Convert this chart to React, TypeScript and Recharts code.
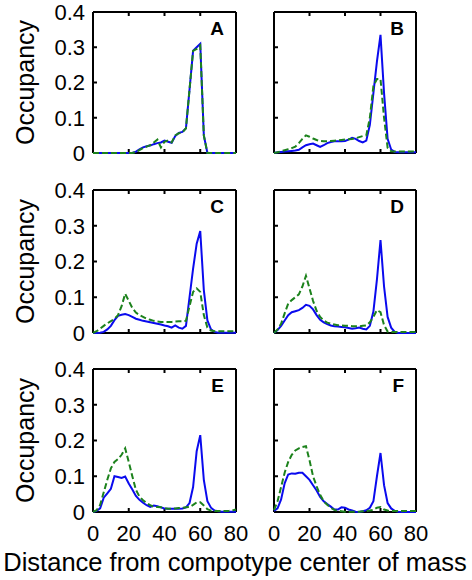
import React from "react";
import { LineChart, Line, XAxis, YAxis } from "recharts";

// distance from compotype center of mass (sampled every 2 units)
const distance = [
  0, 2, 4, 6, 8, 10, 12, 14, 16, 18, 20, 22, 24, 26, 28, 30, 32, 34, 36, 38, 40,
  42, 44, 46, 48, 50, 52, 54, 56, 58, 60, 62, 64, 66, 68, 70, 72, 74, 76, 78, 80,
];
const xTicks = [0, 20, 40, 60, 80];
const yTicks = [0, 0.1, 0.2, 0.3, 0.4];
const panelLetters = ["A", "B", "C", "D", "E", "F"];
const yLabel = "Occupancy";
const xLabel = "Distance from compotype center of mass";

// occupancy, solid blue series
const blueA = [
  0, 0, 0, 0, 0, 0, 0, 0, 0, 0, 0, 0, 0.004, 0.01, 0.016, 0.019, 0.021, 0.025, 0.028, 0.03, 0.035,
  0.032, 0.029, 0.048, 0.057, 0.06, 0.07, 0.18, 0.29, 0.3, 0.31, 0.05, 0, 0, 0, 0, 0, 0, 0, 0, 0,
];
const blueB = [
  0, 0.002, 0.003, 0.004, 0.005, 0.006, 0.007, 0.009, 0.016, 0.022, 0.025, 0.027, 0.022, 0.017, 0.022, 0.028, 0.031, 0.033, 0.033, 0.033, 0.034,
  0.038, 0.043, 0.04, 0.034, 0.03, 0.035, 0.08, 0.17, 0.26, 0.335, 0.17, 0.04, 0.01, 0.003, 0.002, 0.002, 0.002, 0.002, 0.002, 0.002,
];
const blueC = [
  0, 0, 0.001, 0.003, 0.01, 0.02, 0.036, 0.048, 0.051, 0.053, 0.05, 0.045, 0.04, 0.037, 0.034, 0.032, 0.03, 0.028, 0.026, 0.024, 0.021,
  0.019, 0.015, 0.021, 0.015, 0.012, 0.02, 0.1, 0.18, 0.25, 0.285, 0.12, 0.035, 0.01, 0.003, 0.001, 0.001, 0.001, 0.001, 0.001, 0.001,
];
const blueD = [
  0, 0.008, 0.02, 0.035, 0.05, 0.058, 0.061, 0.064, 0.07, 0.079, 0.076, 0.066, 0.05, 0.037, 0.03, 0.025, 0.021, 0.019, 0.018, 0.017, 0.016,
  0.014, 0.012, 0.013, 0.015, 0.012, 0.01, 0.02, 0.06, 0.15, 0.26, 0.13, 0.045, 0.015, 0.003, 0, 0, 0, 0, 0, 0,
];
const blueE = [
  0, 0.003, 0.01, 0.04, 0.052, 0.065, 0.1, 0.098, 0.095, 0.099, 0.08, 0.063, 0.045, 0.034, 0.026, 0.019, 0.014, 0.018, 0.016, 0.013, 0.01,
  0.009, 0.009, 0.009, 0.009, 0.01, 0.013, 0.025, 0.07, 0.17, 0.215, 0.09, 0.03, 0.012, 0.004, 0.002, 0.001, 0.001, 0.001, 0.001, 0.001,
];
const blueF = [
  0.003, 0.01, 0.035, 0.08, 0.105, 0.108, 0.107, 0.11, 0.11, 0.1, 0.09, 0.075, 0.06, 0.042, 0.03, 0.022, 0.015, 0.007, 0.007, 0.013, 0.012,
  0.007, 0.004, 0.001, 0, 0.002, 0.005, 0.012, 0.03, 0.1, 0.165, 0.075, 0.025, 0.01, 0.003, 0.001, 0, 0, 0, 0, 0,
];

// occupancy, dashed green series
const greenA = [
  0, 0, 0, 0, 0, 0, 0, 0, 0, 0, 0, 0, 0.003, 0.008, 0.014, 0.018, 0.022, 0.03, 0.038, 0.016, 0.032,
  0.036, 0.03, 0.05, 0.056, 0.058, 0.07, 0.18, 0.29, 0.295, 0.305, 0.05, 0, 0, 0, 0, 0, 0, 0, 0, 0,
];
const greenB = [
  0, 0.002, 0.005, 0.008, 0.011, 0.014, 0.018, 0.028, 0.04, 0.05, 0.046, 0.041, 0.037, 0.034, 0.033, 0.033, 0.034, 0.035, 0.036, 0.037, 0.038,
  0.039, 0.04, 0.042, 0.045, 0.048, 0.05, 0.1, 0.19, 0.21, 0.21, 0.1, 0.015, 0.005, 0.004, 0.004, 0.004, 0.004, 0.004, 0.004, 0.004,
];
const greenC = [
  0, 0.005, 0.012, 0.02, 0.027, 0.033, 0.04, 0.05, 0.075, 0.11, 0.09, 0.07, 0.057, 0.05, 0.045, 0.04, 0.037, 0.034, 0.032, 0.031, 0.031,
  0.031, 0.031, 0.032, 0.033, 0.033, 0.034, 0.075, 0.115, 0.125, 0.115, 0.05, 0.015, 0.007, 0.005, 0.005, 0.005, 0.005, 0.005, 0.005, 0.005,
];
const greenD = [
  0, 0.01, 0.026, 0.055, 0.082, 0.092, 0.1, 0.108, 0.13, 0.16, 0.125, 0.09, 0.062, 0.045, 0.035, 0.029, 0.026, 0.024, 0.022, 0.021, 0.02,
  0.02, 0.019, 0.019, 0.019, 0.02, 0.021, 0.03, 0.045, 0.064, 0.058, 0.022, 0.004, 0.003, 0.003, 0.003, 0.003, 0.003, 0.003, 0.003, 0.003,
];
const greenE = [
  0, 0.005, 0.02, 0.055, 0.09, 0.122, 0.14, 0.148, 0.16, 0.178, 0.14, 0.1, 0.062, 0.043, 0.033, 0.025, 0.019, 0.014, 0.014, 0.013, 0.011,
  0.009, 0.009, 0.01, 0.011, 0.012, 0.013, 0.014, 0.02, 0.027, 0.027, 0.018, 0.008, 0.004, 0.003, 0.003, 0.003, 0.003, 0.003, 0.004, 0.007,
];
const greenF = [
  0.005, 0.03, 0.07, 0.11, 0.14, 0.16, 0.172, 0.178, 0.182, 0.184, 0.145, 0.1, 0.072, 0.048, 0.03, 0.02, 0.012, 0.006, 0.003, 0.002, 0.001,
  0.001, 0.001, 0.001, 0.001, 0.002, 0.003, 0.004, 0.006, 0.012, 0.014, 0.007, 0.004, 0.003, 0.003, 0.003, 0.003, 0.003, 0.003, 0.003, 0.003,
];

const blueSeries = [blueA, blueB, blueC, blueD, blueE, blueF];
const greenSeries = [greenA, greenB, greenC, greenD, greenE, greenF];

const FONT = '"Liberation Sans", Arial, Helvetica, sans-serif';
const BLUE = "#0a0aee";
const GREEN = "#1c821c";

// plot-area boxes (px, page coords)
const COLS = [
  { left: 93, width: 143 },
  { left: 274, width: 142 },
];
const ROWS = [
  { top: 12, height: 141 },
  { top: 190, height: 143 },
  { top: 369, height: 143 },
];

const frame = { stroke: "#000", strokeWidth: 2 };
const tickFont = { fill: "#000", fontSize: 22, fontFamily: FONT };
const blank = () => "";

function Panel({ index }: { index: number }) {
  const col = index % 2;
  const row = Math.floor(index / 2);
  const c = COLS[col];
  const r = ROWS[row];
  const showY = col === 0;
  const showX = row === ROWS.length - 1;
  const padL = showY ? 90 : 40;
  const padR = showX ? 16 : 6;
  const padT = 12;
  const padB = showX ? 44 : 12;

  const blue = blueSeries[index];
  const green = greenSeries[index];
  const data = distance.map((d, i) => ({ d, blue: blue[i], green: green[i] }));

  return (
    <div style={{ position: "absolute", left: c.left - padL, top: r.top - padT }}>
      <LineChart
        width={c.width + padL + padR}
        height={r.height + padT + padB}
        data={data}
        margin={{ top: 0, right: 0, bottom: 0, left: 0 }}
      >
        <XAxis
          xAxisId="b"
          dataKey="d"
          type="number"
          orientation="bottom"
          domain={[0, 80]}
          ticks={xTicks}
          interval={0}
          height={padB}
          axisLine={frame}
          tickLine={frame}
          tickSize={-4}
          tickMargin={17}
          tick={tickFont}
          tickFormatter={showX ? undefined : blank}
        />
        <XAxis
          xAxisId="t"
          dataKey="d"
          type="number"
          orientation="top"
          domain={[0, 80]}
          ticks={xTicks}
          interval={0}
          height={padT}
          axisLine={frame}
          tickLine={frame}
          tickSize={-4}
          tick={tickFont}
          tickFormatter={blank}
        />
        <YAxis
          yAxisId="l"
          type="number"
          orientation="left"
          domain={[0, 0.4]}
          ticks={yTicks}
          interval={0}
          width={padL}
          axisLine={frame}
          tickLine={frame}
          tickSize={-4}
          tickMargin={12}
          tick={tickFont}
          tickFormatter={showY ? undefined : blank}
        />
        <YAxis
          yAxisId="r"
          type="number"
          orientation="right"
          domain={[0, 0.4]}
          ticks={yTicks}
          interval={0}
          width={padR}
          axisLine={frame}
          tickLine={frame}
          tickSize={-4}
          tick={tickFont}
          tickFormatter={blank}
        />
        <Line
          xAxisId="b"
          yAxisId="l"
          type="linear"
          dataKey="blue"
          stroke={BLUE}
          strokeWidth={2}
          dot={false}
          zIndex={1000}
          isAnimationActive={false}
        />
        <Line
          xAxisId="b"
          yAxisId="l"
          type="linear"
          dataKey="green"
          stroke={GREEN}
          strokeWidth={2}
          strokeDasharray="6 3"
          dot={false}
          zIndex={1001}
          isAnimationActive={false}
        />
      </LineChart>
    </div>
  );
}

export default function App() {
  return (
    <div
      style={{
        position: "absolute",
        left: 0,
        top: 0,
        width: 472,
        height: 580,
        background: "#fff",
        fontFamily: FONT,
      }}
    >
      {panelLetters.map((_, i) => (
        <Panel key={i} index={i} />
      ))}
      <svg
        width={472}
        height={580}
        style={{ position: "absolute", left: 0, top: 0, pointerEvents: "none" }}
      >
        {ROWS.map((r, i) => {
          const cy = r.top + r.height / 2;
          return (
            <text
              key={"yl" + i}
              x={34}
              y={cy}
              transform={`rotate(-90, 34, ${cy})`}
              textAnchor="middle"
              fontSize={25}
              fontFamily={FONT}
              fill="#000"
            >
              {yLabel}
            </text>
          );
        })}
        {panelLetters.map((letter, i) => {
          const c = COLS[i % 2];
          const r = ROWS[Math.floor(i / 2)];
          return (
            <text
              key={letter}
              x={c.left + c.width - 12}
              y={r.top + 23}
              textAnchor="end"
              fontSize={19}
              fontWeight="bold"
              fontFamily={FONT}
              fill="#000"
            >
              {letter}
            </text>
          );
        })}
        <text x={235} y={571} textAnchor="middle" fontSize={25.5} fontFamily={FONT} fill="#000">
          {xLabel}
        </text>
      </svg>
    </div>
  );
}
